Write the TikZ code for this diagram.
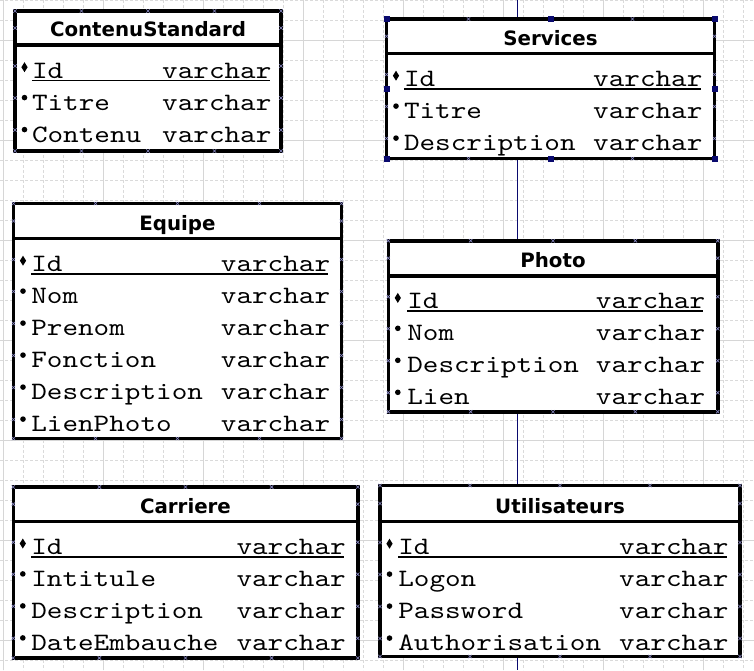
\documentclass[tikz,border=0pt]{standalone}
\usepackage{fontspec}
\usetikzlibrary{calc}
\newfontfamily\fieldfont{lmmono10-regular}[Extension=.otf, FakeStretch=1.189]
\newfontfamily\headfont{DejaVu Sans}
\definecolor{gridmajor}{RGB}{214,214,214}
\definecolor{gridminor}{RGB}{218,218,218}
\definecolor{navy}{RGB}{10,10,110}
\definecolor{cpcolor}{RGB}{140,140,200}

% frame of an entity: white body, thick border, title bar separator, title
\newcommand\erframe[7]{% id, L, T, R, H, B, title
  \fill[white] (#2,#3) rectangle (#4,#6);
  \draw[frame] (#2,#3) rectangle (#4,#6);
  \draw[frame] (#2,#5) -- (#4,#5);
  \node[titletxt] (#1-title) at ({(#2+#4)/2},{#5-8.2}) {#7};
  \foreach \q in {0,...,4} {
    \cpmark{#2+\q*(#4-#2)/4}{#3}
    \cpmark{#2+\q*(#4-#2)/4}{#6}
  }
  \cpmark{#2}{(#3+#5)/2}
  \cpmark{#4}{(#3+#5)/2}
}

% attribute rows: key row first (diamond + underline), then plain rows
\newcommand\errows[7]{% id, L, R, H, name x, type x, field list
  \foreach \fname [count=\k from 0] in {#7} {
    \pgfmathsetmacro\yb{#4+33+32*\k}
    \node[fieldtxt] (#1-f\k) at ({#5+2.2},\yb) {\fname};
    \node[fieldtxt] (#1-t\k) at (#6,\yb) {varchar};
    \ifnum\k=0
      \fill ({#2+9.5},{\yb-15.8}) -- ({#2+12.6},{\yb-10.8}) -- ({#2+9.5},{\yb-5.8}) -- ({#2+6.4},{\yb-10.8}) -- cycle;
    \else
      \fill ({#2+9.5},{\yb-12.4}) circle (2.8);
    \fi
    \cpmark{#2}{\yb-12}
    \cpmark{#3}{\yb-12}
  }
  \draw[keyline] ($(#1-f0.base west)+(0,2.5)$) -- ($(#1-t0.base east)+(-2,2.5)$);
}

% connection point cross
\newcommand\cpmark[2]{%
  \draw[cpcolor, line width=0.6pt] ({#1-1.7},{#2-1.7}) -- ({#1+1.7},{#2+1.7}) ({#1-1.7},{#2+1.7}) -- ({#1+1.7},{#2-1.7});
}

% selection handle
\newcommand\handle[2]{\fill[navy] ({#1-3},{#2-3}) rectangle ({#1+3},{#2+3});}

\begin{document}
\begin{tikzpicture}[x=1pt,y=-1pt,
  frame/.style={line width=3.6pt, black},
  keyline/.style={line width=1.6pt, black},
  titletxt/.style={font=\headfont\bfseries\fontsize{19.8}{22}\selectfont, inner sep=0pt, anchor=base},
  fieldtxt/.style={font=\fieldfont\fontsize{25}{28}\selectfont, inner sep=0pt, anchor=base west, text=black},
  minorline/.style={gridminor, line width=0.8pt, dash pattern=on 3pt off 2pt},
  majorline/.style={gridmajor, line width=0.9pt}]

\useasboundingbox (0,0) rectangle (754,670);
\fill[white] (0,0) rectangle (754,670);

% drawing grid
\foreach \gx in {3,23,...,743} \draw[minorline] (\gx,0) -- (\gx,670);
\foreach \gy in {0,20,...,660} \draw[minorline] (0,\gy) -- (754,\gy);
\foreach \gx in {3,103,...,703} \draw[majorline] (\gx,0) -- (\gx,670);
\foreach \gy in {40,140,...,640} \draw[majorline] (0,\gy) -- (754,\gy);

% page break
\draw[navy, line width=1pt] (517,0) -- (517,670);

% ContenuStandard
\erframe{cs}{15}{11}{281}{45}{151}{ContenuStandard}
\errows{cs}{15}{281}{45}{29.6}{162}{Id,Titre,Contenu}

% Services
\erframe{sv}{386.5}{19}{714.5}{53.5}{158.5}{Services}
\errows{sv}{386.5}{714.5}{53.5}{401.6}{593}{Id,Titre,Description}

% Equipe
\erframe{eq}{13.5}{203.5}{341.5}{238.5}{438.5}{Equipe}
\errows{eq}{13.5}{341.5}{238.5}{28.9}{220.7}{Id,Nom,Prenom,Fonction,Description,LienPhoto}

% Photo
\erframe{ph}{388.3}{240.7}{717.7}{275.7}{411.7}{Photo}
\errows{ph}{388.3}{717.7}{275.7}{404.9}{595.7}{Id,Nom,Description,Lien}

% Carriere
\erframe{ca}{13.3}{487}{357.7}{521.3}{658}{Carriere}
\errows{ca}{13.3}{357.7}{521.3}{28.9}{236.3}{Id,Intitule,Description,DateEmbauche}

% Utilisateurs
\erframe{ut}{380}{485.5}{740}{521.5}{656.5}{Utilisateurs}
\errows{ut}{380}{740}{521.5}{395.9}{619}{Id,Logon,Password,Authorisation}

% selection handles around Services
\foreach \hx in {386.5,550.5,714.5} {\handle{\hx}{19}\handle{\hx}{158.5}}
\handle{386.5}{88.75}
\handle{714.5}{88.75}

\end{tikzpicture}
\end{document}
